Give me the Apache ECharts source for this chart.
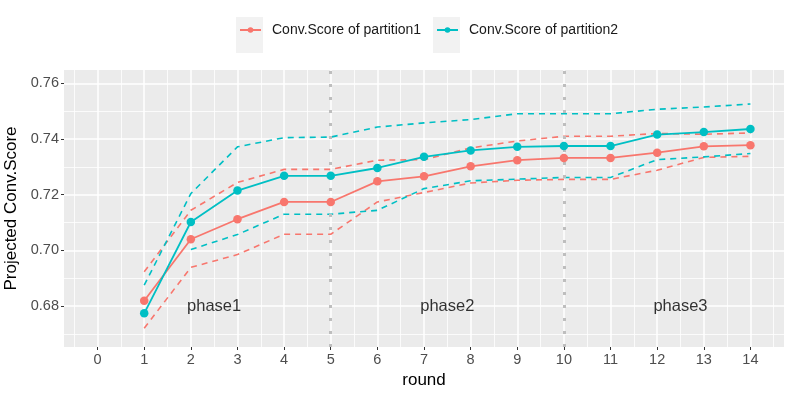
<!DOCTYPE html>
<html>
<head>
<meta charset="utf-8">
<script src="https://cdn.jsdelivr.net/npm/echarts@6/dist/echarts.min.js"></script>
<style>
  html, body { margin: 0; padding: 0; background: #fff; }
  #myChart { width: 793px; height: 397px; }
</style>
</head>
<body>
<div id="myChart"></div>
<script>
// rounds and projected scores
const rounds = [1, 2, 3, 4, 5, 6, 7, 8, 9, 10, 11, 12, 13, 14];
const p1Mean  = [0.6819, 0.7040, 0.7112, 0.7174, 0.7174, 0.7248, 0.7266, 0.7302, 0.7324, 0.7332, 0.7332, 0.7351, 0.7374, 0.7378];
const p1Upper = [0.6923, 0.7144, 0.7244, 0.7291, 0.7291, 0.7324, 0.7326, 0.7368, 0.7393, 0.7410, 0.7410, 0.7420, 0.7417, 0.7422];
const p1Lower = [0.6720, 0.6939, 0.6985, 0.7058, 0.7058, 0.7174, 0.7208, 0.7242, 0.7252, 0.7255, 0.7255, 0.7288, 0.7334, 0.7338];
const p2Mean  = [0.6774, 0.7102, 0.7215, 0.7268, 0.7268, 0.7296, 0.7336, 0.7359, 0.7372, 0.7375, 0.7375, 0.7416, 0.7425, 0.7436];
const p2Upper = [0.6875, 0.7204, 0.7372, 0.7405, 0.7407, 0.7443, 0.7458, 0.7470, 0.7491, 0.7491, 0.7491, 0.7507, 0.7515, 0.7526];
const p2Lower = [null,   0.7003, 0.7057, 0.7130, 0.7130, 0.7144, 0.7222, 0.7250, 0.7256, 0.7262, 0.7262, 0.7326, 0.7336, 0.7348];

const xTicks = [0, 1, 2, 3, 4, 5, 6, 7, 8, 9, 10, 11, 12, 13, 14];
const xMinor = [-0.5, 0.5, 1.5, 2.5, 3.5, 4.5, 5.5, 6.5, 7.5, 8.5, 9.5, 10.5, 11.5, 12.5, 13.5, 14.5];
const yTicks = [0.68, 0.70, 0.72, 0.74, 0.76];
const yMinor = [0.67, 0.69, 0.71, 0.73, 0.75];

const phaseBreaks = [5, 10];
const phaseNames = ["phase1", "phase2", "phase3"];
const phaseX = [2.5, 7.5, 12.5];
const phaseY = 0.68;

const names = ["Conv.Score of partition1", "Conv.Score of partition2"];
const RED = "#F8766D";
const CYAN = "#00BFC4";
const FONT = "Liberation Sans";

function pairs(values) {
  return rounds.map((r, i) => [r, values[i] == null ? "-" : values[i]]);
}

function meanSeries(name, values, color) {
  return {
    name: name,
    type: "line",
    data: pairs(values),
    symbol: "circle",
    symbolSize: 8.5,
    z: 5,
    itemStyle: { color: color },
    lineStyle: { color: color, width: 1.8 },
  };
}

function bandSeries(values, color) {
  return {
    type: "line",
    data: pairs(values),
    symbol: "none",
    z: 4,
    lineStyle: { color: color, width: 1.6, type: [6, 5] },
  };
}

const myChart = echarts.init(document.getElementById("myChart"));
const minorLine = { show: true, lineStyle: { color: "#fff", width: 0.8 } };

const option = {
  animation: false,
  textStyle: { fontFamily: FONT },
  grid: {
    left: 64, right: 9, top: 70, bottom: 50,
    outerBoundsMode: "none",
    containLabel: false,
    show: true, backgroundColor: "#EBEBEB", borderWidth: 0,
  },
  // legend keys have a light grey box in ggplot
  graphic: [
    { type: "rect", shape: { x: 236, y: 17, width: 27, height: 36 }, style: { fill: "#F2F2F2" } },
    { type: "rect", shape: { x: 433, y: 17, width: 27, height: 36 }, style: { fill: "#F2F2F2" } },
  ],
  legend: [0, 1].map((i) => ({
    data: [names[i]],
    left: i === 0 ? 239 : 436,
    top: 23,
    padding: 0,
    itemWidth: 21,
    itemHeight: 7,
    textStyle: { fontSize: 14, color: "#1A1A1A", padding: [0, 0, 0, 6] },
  })),
  xAxis: [
    {
      type: "value", min: -0.72, max: 14.72,
      name: "round", nameLocation: "middle", nameGap: 24,
      nameTextStyle: { fontSize: 17, color: "#000" },
      axisLine: { show: false, onZero: false },
      axisTick: { show: true, length: 3, customValues: xTicks, lineStyle: { color: "#333" } },
      axisLabel: { customValues: xTicks, color: "#4D4D4D", fontSize: 14.5, margin: 5 },
      splitLine: { show: true, lineStyle: { color: "#fff", width: 1.5 } },
    },
    {
      type: "value", min: -0.72, max: 14.72, position: "bottom",
      axisLine: { show: false, onZero: false },
      axisTick: { show: false, customValues: xMinor },
      axisLabel: { show: false, customValues: xMinor },
      splitLine: minorLine,
    },
  ],
  yAxis: [
    {
      type: "value", min: 0.6653, max: 0.7648,
      name: "Projected Conv.Score", nameLocation: "middle", nameGap: 40,
      nameTextStyle: { fontSize: 17, color: "#000" },
      axisLine: { show: false, onZero: false },
      axisTick: { show: true, length: 3, customValues: yTicks, lineStyle: { color: "#333" } },
      axisLabel: {
        customValues: yTicks, color: "#4D4D4D", fontSize: 14.5, margin: 5,
        formatter: (v) => v.toFixed(2),
      },
      splitLine: { show: true, lineStyle: { color: "#fff", width: 1.5 } },
    },
    {
      type: "value", min: 0.6653, max: 0.7648, position: "left",
      axisLine: { show: false, onZero: false },
      axisTick: { show: false, customValues: yMinor },
      axisLabel: { show: false, customValues: yMinor },
      splitLine: minorLine,
    },
  ],
  series: [
    bandSeries(p1Upper, RED),
    bandSeries(p1Lower, RED),
    bandSeries(p2Upper, CYAN),
    bandSeries(p2Lower, CYAN),
    meanSeries(names[0], p1Mean, RED),
    meanSeries(names[1], p2Mean, CYAN),
    {
      // phase separators + labels
      type: "scatter",
      symbolSize: 0,
      z: 6,
      data: phaseNames.map((n, i) => ({ name: n, value: [phaseX[i], phaseY] })),
      label: {
        show: true, position: "inside", formatter: "{b}",
        fontSize: 16.5, color: "#000", fontFamily: FONT,
      },
      markLine: {
        silent: true,
        symbol: "none",
        label: { show: false },
        lineStyle: { color: "#BEBEBE", width: 3, type: [3, 10] },
        data: phaseBreaks.map((b) => ({ xAxis: b })),
      },
    },
  ],
};
myChart.setOption(option);
</script>
</body>
</html>
